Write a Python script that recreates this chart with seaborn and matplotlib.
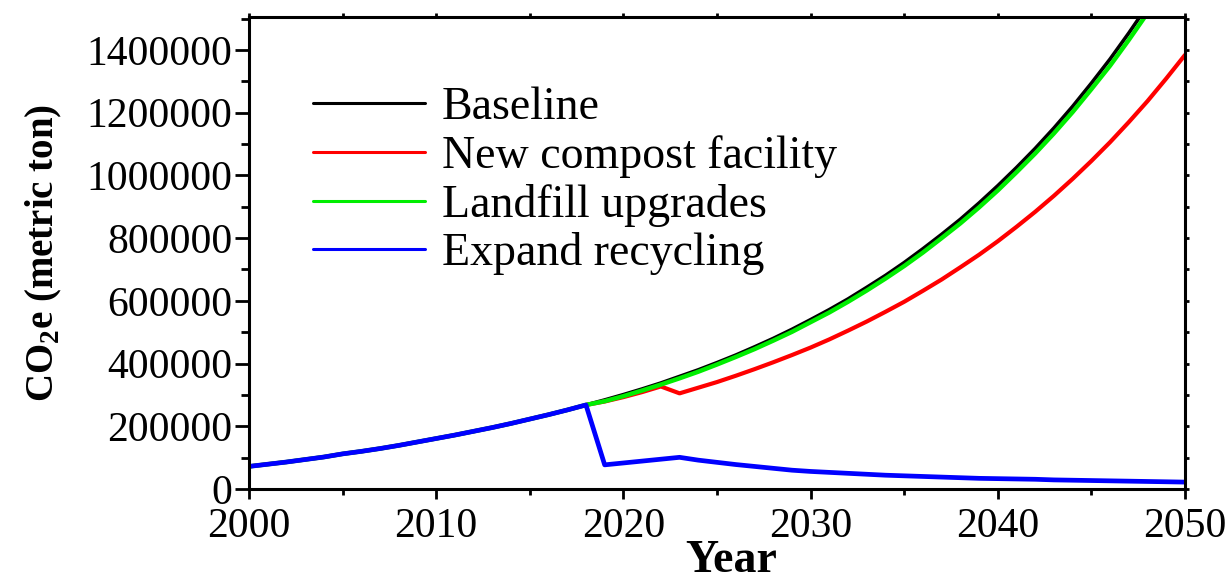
import numpy as np
import pandas as pd
import matplotlib
matplotlib.use("Agg")
import matplotlib.pyplot as plt
import seaborn as sns
from matplotlib.ticker import MultipleLocator

years = list(range(2000, 2051))

baseline = [72000, 79000, 86000, 94000, 102000, 112000, 120000, 129000, 139000, 150000,
            161000, 172000, 184000, 196000, 209000, 223000, 237000, 252000, 268000, 284000,
            301000, 319000, 338000, 359000, 380000, 403000, 427000, 453000, 480000, 509000,
            540000, 572000, 606000, 643000, 681000, 722000, 766000, 812000, 860000, 912000,
            967000, 1025000, 1086000, 1151000, 1220000, 1294000, 1371000, 1454000, 1541000, 1633000,
            1731000]

compost = baseline[:19] + [279000, 293000, 309000, 327000, 305000, 323000, 341000, 361000, 382000, 404000,
                           427000, 451000, 477000, 505000, 534000, 565000, 597000, 632000, 668000, 707000,
                           747000, 790000, 836000, 884000, 935000, 989000, 1046000, 1106000, 1170000, 1237000,
                           1309000, 1384000]

landfill = baseline[:19] + [280000, 296000, 314000, 333000, 353000, 374000, 397000, 421000, 446000, 473000,
                            501000, 532000, 563000, 597000, 633000, 671000, 711000, 754000, 800000, 847000,
                            898000, 952000, 1010000, 1070000, 1134000, 1202000, 1275000, 1350000, 1432000, 1518000,
                            1608000, 1705000]

recycling = baseline[:19] + [77000, 83000, 89000, 95000, 101000, 92000, 85000, 78000, 72000, 66000,
                             60000, 56000, 53000, 50000, 47000, 44000, 42000, 40000, 38000, 36000,
                             34000, 33000, 32000, 31000, 29000, 28000, 27000, 26000, 25000, 24000,
                             23000, 22000]

series_names = ["Baseline", "New compost facility", "Landfill upgrades", "Expand recycling"]
series_colors = ["#000000", "#ff0000", "#00ee00", "#0000ff"]
series_widths = [2.6, 3.0, 3.2, 3.4]

df = pd.DataFrame({
    "Year": years * 4,
    "value": baseline + compost + landfill + recycling,
    "scenario": sum([[n] * len(years) for n in series_names], []),
})

sns.set_style("ticks")
plt.rcParams["font.family"] = ["Liberation Serif", "DejaVu Serif"]
plt.rcParams["mathtext.fontset"] = "custom"
plt.rcParams["mathtext.rm"] = "Liberation Serif"
plt.rcParams["mathtext.bf"] = "Liberation Serif:bold"
for k in ["text.color", "axes.labelcolor", "xtick.color", "ytick.color"]:
    plt.rcParams[k] = "black"

fig = plt.figure(figsize=(12.32, 5.81), dpi=100)
ax = fig.add_axes([249 / 1232, 1 - 489 / 581, (1185 - 249) / 1232, (489 - 17) / 581])

for name, col, lw in zip(series_names, series_colors, series_widths):
    sub = df[df["scenario"] == name]
    sns.lineplot(data=sub, x="Year", y="value", color=col, linewidth=lw, ax=ax,
                 label=name, legend=False)

ax.set_xlim(2000, 2050)
ax.set_ylim(0, 1505000)
ax.xaxis.set_major_locator(MultipleLocator(10))
ax.xaxis.set_minor_locator(MultipleLocator(5))
ax.yaxis.set_major_locator(MultipleLocator(200000))
ax.yaxis.set_minor_locator(MultipleLocator(100000))
ax.yaxis.set_major_formatter(matplotlib.ticker.FuncFormatter(lambda v, p: f"{int(round(v))}"))

for s in ax.spines.values():
    s.set_visible(True)
    s.set_linewidth(2.2)
    s.set_color("black")

ax.tick_params(axis="y", which="major", direction="out", length=10, width=2.0,
               labelsize=30, pad=2, right=True)
ax.tick_params(axis="y", which="minor", direction="out", length=6, width=2.0, right=True)
ax.tick_params(axis="x", which="major", direction="out", length=7.5, width=2.0,
               labelsize=30, pad=6, top=True)
ax.tick_params(axis="x", which="minor", direction="out", length=4.5, width=2.0, top=True)
for t in ax.xaxis.get_major_ticks() + ax.xaxis.get_minor_ticks():
    t.tick2line.set_markersize(3)
for t in ax.yaxis.get_major_ticks() + ax.yaxis.get_minor_ticks():
    t.tick2line.set_markersize(3)

ax.set_xlabel("Year", fontsize=33, fontweight="bold")
ax.xaxis.set_label_coords(0.515, -0.108)
ax.set_ylabel(r"CO$_\mathbf{2}$e (metric ton)", fontsize=28, fontweight="bold")
ax.yaxis.set_label_coords(-0.198, 0.5)

handles, labels = ax.get_legend_handles_labels()
leg = ax.legend(handles, labels, loc="upper left", bbox_to_anchor=(0.068, 0.852),
                frameon=False, fontsize=33, handlelength=2.45, handletextpad=0.37,
                labelspacing=0.125, borderpad=0, borderaxespad=0)
for h in leg.get_lines():
    h.set_linewidth(2.2)

fig.savefig("out.png", dpi=100, facecolor="white")
